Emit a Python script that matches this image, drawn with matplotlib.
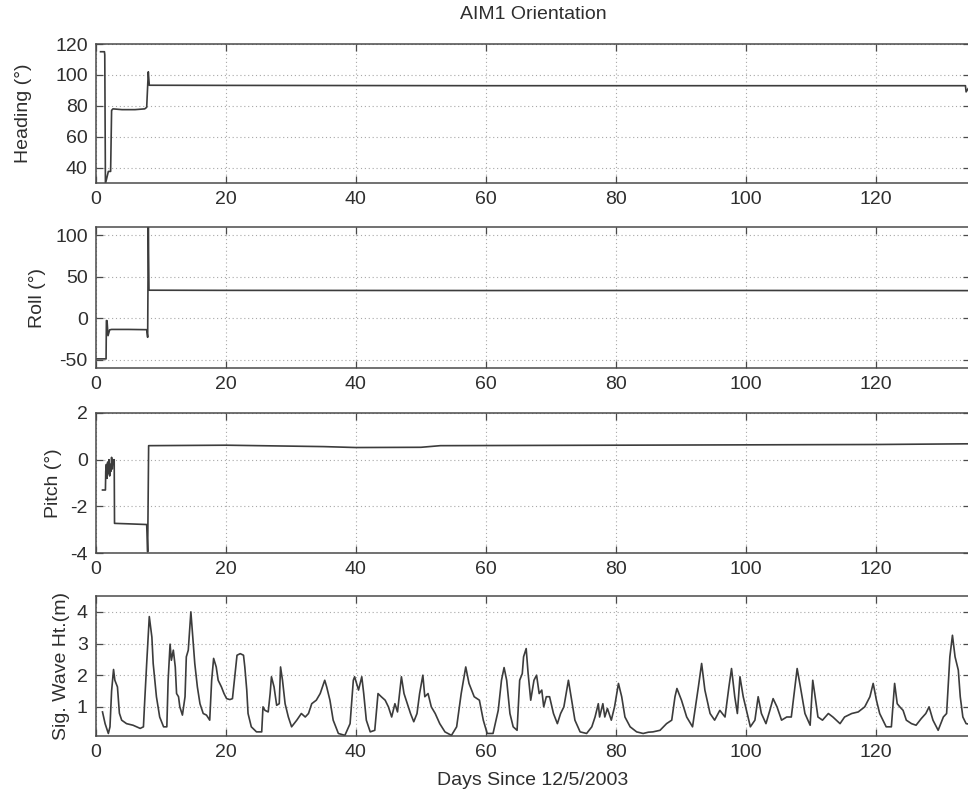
import matplotlib
matplotlib.use("Agg")
import matplotlib.pyplot as plt

plt.rcParams['font.family'] = ['Liberation Sans', 'DejaVu Sans']
plt.rcParams['axes.unicode_minus'] = False

# ---------------- data ----------------
xticks = [0, 20, 40, 60, 80, 100, 120]

heading_days = [0.7, 1.3, 1.35, 1.45, 1.9, 2.25, 2.4, 2.6, 4.0, 6.0, 7.5, 7.8, 8.05, 8.2, 20, 60, 100, 133.8, 133.9, 134.5]
heading_vals = [115, 115, 113, 29.5, 37.5, 37.5, 77, 78, 77.5, 77.5, 78, 79, 102, 93.3, 93.2, 93, 93, 93, 89, 93]

roll_days = [0.1, 1.55, 1.6, 1.7, 1.85, 2.1, 2.4, 5.0, 7.8, 7.95, 8.05, 8.15, 20, 60, 100, 134.5]
roll_vals = [-49, -49, -2.8, -3, -21, -14, -13.5, -13.5, -13.8, -23, 110, 33.8, 33.6, 33.4, 33.5, 33.3]

pitch_days = [1.0, 1.45, 1.5, 1.6, 1.7, 1.8, 1.9, 2.0, 2.1, 2.2, 2.3, 2.4, 2.5, 2.6, 2.7, 2.8, 2.85,
              5.0, 7.8, 7.95, 8.1, 20, 35, 40, 50, 53, 80, 120, 134.5]
pitch_vals = [-1.3, -1.3, -0.5, -0.2, -0.8, -0.1, -0.6, 0.0, -0.7, -0.2, -0.5, 0.1, -0.4, 0.0, -0.1, 0.0, -2.73,
              -2.75, -2.78, -3.95, 0.6, 0.62, 0.56, 0.52, 0.53, 0.6, 0.62, 0.65, 0.68]

wave_days = [1.0, 1.4, 1.9, 2.15, 2.4, 2.7, 2.9, 3.3, 3.6, 3.95, 4.7, 5.7, 6.8, 7.3, 7.5, 7.8, 8.2, 8.6, 8.8,
             9.3, 9.8, 10.4, 10.9, 11.1, 11.4, 11.6, 11.9, 12.2, 12.4, 12.7, 12.9, 13.3, 13.7, 13.9, 14.2,
             14.6, 14.9, 15.2, 15.6, 16.0, 16.5, 17.0, 17.5, 17.8, 18.1, 18.5, 18.8, 19.3, 19.7, 20.1, 20.6,
             21.0, 21.4, 21.7, 22.2, 22.7, 22.9, 23.2, 23.4, 23.9, 24.7, 25.5, 25.7, 26.0, 26.5, 26.8, 27.0,
             27.4, 27.8, 28.2, 28.4, 28.7, 29.1, 29.6, 30.1, 30.9, 31.6, 32.2, 32.7, 33.2, 33.9, 34.5, 35.2,
             35.5, 36.0, 36.5, 37.3, 38.3, 39.1, 39.6, 39.8, 40.4, 40.9, 41.2, 41.6, 42.2, 42.9, 43.4, 43.9,
             44.5, 45.0, 45.5, 46.0, 46.4, 47.0, 47.4, 47.9, 48.4, 48.9, 49.4, 49.8, 50.3, 50.6, 51.1, 51.6,
             52.2, 52.9, 53.7, 54.7, 55.5, 56.2, 56.9, 57.4, 58.2, 59.0, 59.6, 60.2, 61.1, 61.9, 62.4, 62.8,
             63.2, 63.7, 64.2, 64.8, 65.2, 65.6, 65.8, 66.2, 66.5, 66.9, 67.4, 67.8, 68.2, 68.6, 68.9, 69.3,
             69.8, 70.4, 71.0, 71.5, 72.0, 72.7, 73.2, 73.7, 74.5, 75.5, 76.3, 76.8, 77.3, 77.5, 78.0, 78.3,
             78.7, 79.3, 79.8, 80.4, 80.9, 81.4, 82.2, 83.2, 84.2, 85.0, 85.7, 86.8, 87.8, 88.6, 89.1, 89.4,
             90.1, 90.9, 91.8, 92.7, 93.2, 93.7, 94.5, 95.2, 96.0, 96.8, 97.4, 97.8, 98.3, 98.7, 99.1, 99.6,
             100.1, 100.7, 101.4, 101.9, 102.4, 103.1, 103.7, 104.2, 104.8, 105.5, 106.3, 107.0, 107.5, 107.9,
             108.4, 109.1, 109.9, 110.3, 110.6, 111.1, 111.8, 112.7, 113.4, 114.5, 115.2, 116.3, 117.3, 118.3,
             119.1, 119.6, 120.1, 120.6, 121.6, 122.4, 122.9, 123.3, 123.7, 124.2, 124.7, 125.5, 126.2, 127.0,
             127.7, 128.2, 128.8, 129.6, 130.4, 130.9, 131.4, 131.8, 132.2, 132.7, 133.0, 133.4, 133.9, 134.5]
wave_vals = [0.84, 0.47, 0.16, 0.37, 1.5, 2.18, 1.84, 1.63, 0.8, 0.58, 0.47, 0.42, 0.32, 0.37, 1.2, 2.37, 3.85, 3.2, 2.37,
             1.32, 0.68, 0.37, 0.37, 1.84, 2.98, 2.47, 2.79, 2.26, 1.42, 1.32, 1.0, 0.74, 1.32, 2.58, 2.79,
             4.0, 3.2, 2.37, 1.63, 1.1, 0.79, 0.74, 0.58, 1.84, 2.53, 2.26, 1.84, 1.63, 1.42, 1.26, 1.23,
             1.26, 2.05, 2.63, 2.68, 2.63, 2.26, 1.53, 0.79, 0.37, 0.21, 0.21, 1.0, 0.89, 0.84, 1.42, 1.95,
             1.63, 1.05, 1.1, 2.26, 1.84, 1.1, 0.68, 0.37, 0.58, 0.79, 0.68, 0.79, 1.1, 1.21, 1.42, 1.84,
             1.63, 1.21, 0.58, 0.16, 0.1, 0.47, 1.84, 1.95, 1.53, 1.95, 1.42, 0.58, 0.21, 0.26, 1.42, 1.32,
             1.21, 1.0, 0.68, 1.1, 0.84, 1.95, 1.42, 1.1, 0.79, 0.53, 0.79, 1.42, 2.0, 1.32, 1.42, 1.0,
             0.79, 0.47, 0.21, 0.1, 0.37, 1.42, 2.26, 1.74, 1.32, 1.21, 0.58, 0.16, 0.16, 0.89, 1.84, 2.24,
             1.84, 0.79, 0.37, 0.26, 1.84, 2.05, 2.58, 2.84, 2.05, 1.21, 1.84, 2.0, 1.42, 1.53, 1.0, 1.32,
             1.32, 0.79, 0.47, 0.79, 1.0, 1.84, 1.21, 0.58, 0.21, 0.16, 0.37, 0.68, 1.1, 0.68, 1.1, 0.68,
             0.95, 0.58, 1.0, 1.74, 1.32, 0.68, 0.37, 0.21, 0.16, 0.2, 0.21, 0.26, 0.47, 0.58, 1.32, 1.58,
             1.21, 0.68, 0.37, 1.63, 2.37, 1.53, 0.79, 0.58, 0.89, 0.68, 1.63, 2.21, 1.32, 0.79, 1.95, 1.32,
             0.89, 0.37, 0.58, 1.32, 0.79, 0.47, 0.89, 1.26, 1.0, 0.58, 0.68, 0.68, 1.53, 2.21,
             1.63, 0.79, 0.42, 1.84, 1.42, 0.68, 0.58, 0.79, 0.68, 0.47, 0.68, 0.79, 0.84, 1.0,
             1.32, 1.74, 1.21, 0.79, 0.37, 0.37, 1.74, 1.1, 1.0, 0.89, 0.58, 0.47, 0.42, 0.63,
             0.79, 1.0, 0.58, 0.26, 0.68, 0.79, 2.58, 3.26, 2.58, 2.16, 1.32, 0.68, 0.47, 0.45]

panels = [
    ("Heading (°)", heading_days, heading_vals, (30, 120), [40, 60, 80, 100, 120]),
    ("Roll (°)", roll_days, roll_vals, (-60, 110), [-50, 0, 50, 100]),
    ("Pitch (°)", pitch_days, pitch_vals, (-4, 2), [-4, -2, 0, 2]),
    ("Sig. Wave Ht.(m)", wave_days, wave_vals, (0.08, 4.5), [1, 2, 3, 4]),
]

# ---------------- layout ----------------
W, H = 968, 790
fig = plt.figure(figsize=(W / 100, H / 100), dpi=100)
left_px, right_px = 96, 970
tops = [44, 227, 413, 596]
bots = [183, 368, 553, 736]
label_right_px = [32, 46, 62, 70]
xmax = 134.5

line_col = "#3c3c3c"
spine_col = "#4a4a4a"
text_col = "#2e2e2e"

axes = []
for i, (lab, xd, yd, ylim, yt) in enumerate(panels):
    ax = fig.add_axes([left_px / W, 1 - bots[i] / H, (right_px - left_px) / W, (bots[i] - tops[i]) / H])
    ax.plot(xd, yd, color=line_col, lw=1.2)
    ax.set_xlim(0, xmax)
    ax.set_ylim(*ylim)
    ax.set_xticks(xticks)
    ax.set_yticks(yt)
    ax.grid(True, linestyle=(0, (1, 2.5)), color="#a8a8a8", lw=0.8)
    ax.tick_params(direction="in", top=True, right=True, length=5, width=0.9,
                   colors=spine_col, labelcolor=text_col, labelsize=14, pad=6)
    for s in ax.spines.values():
        s.set_color(spine_col)
        s.set_linewidth(1.1)
    ax.set_ylabel(lab, fontsize=14, color=text_col)
    ax.yaxis.set_label_coords((label_right_px[i] - left_px) / (right_px - left_px), 0.5)
    axes.append(ax)

axes[0].set_title("AIM1 Orientation", fontsize=14, color=text_col, pad=18)
axes[-1].set_xlabel("Days Since 12/5/2003", fontsize=14, color=text_col, labelpad=8)

fig.savefig("out.png", dpi=100)
